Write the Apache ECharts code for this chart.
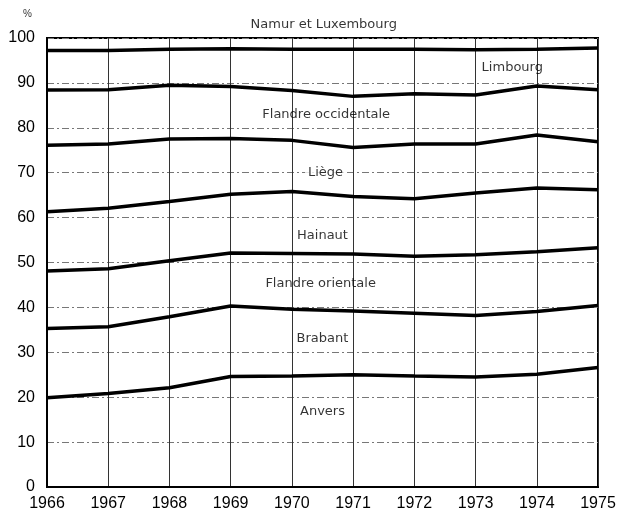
<!DOCTYPE html>
<html>
<head>
<meta charset="utf-8">
<script src="https://cdn.jsdelivr.net/npm/echarts@6/dist/echarts.min.js"></script>
<style>
  html, body { margin: 0; padding: 0; background: #fff; }
  #chart { width: 622px; height: 512px; }
</style>
</head>
<body>
<div id="chart"></div>
<script>
// cumulative shares (%), boundary lines from bottom to top
var years = [1966, 1967, 1968, 1969, 1970, 1971, 1972, 1973, 1974, 1975];
var anvers   = [19.9, 20.8, 22.1, 24.6, 24.7, 25.0, 24.7, 24.5, 25.1, 26.6];
var brabant  = [35.3, 35.7, 37.9, 40.3, 39.6, 39.2, 38.7, 38.2, 39.1, 40.4];
var flOrient = [48.1, 48.6, 50.4, 52.1, 52.0, 51.9, 51.4, 51.7, 52.4, 53.3];
var hainaut  = [61.3, 62.1, 63.6, 65.2, 65.8, 64.7, 64.2, 65.5, 66.6, 66.2];
var liege    = [76.1, 76.4, 77.5, 77.6, 77.2, 75.6, 76.4, 76.4, 78.4, 76.9];
var flOccid  = [88.4, 88.5, 89.5, 89.2, 88.3, 87.0, 87.6, 87.3, 89.3, 88.5];
var limbourg = [97.2, 97.2, 97.5, 97.6, 97.5, 97.5, 97.5, 97.4, 97.5, 97.8];
var yTicks = [0, 10, 20, 30, 40, 50, 60, 70, 80, 90, 100];

// band names with the [year, %] spot where each one is written
var bandNames = ['Namur et Luxembourg', 'Limbourg', 'Flandre occidentale', 'Liège',
  'Hainaut', 'Flandre orientale', 'Brabant', 'Anvers'];
var bandSpots = [[1970.52, 102.9], [1973.6, 93.3], [1970.56, 82.9], [1970.55, 70.1],
  [1970.5, 56.0], [1970.47, 45.3], [1970.5, 33.0], [1970.5, 16.7]];

var font = 'Liberation Sans, Arial, sans-serif';
var boundaries = [anvers, brabant, flOrient, hainaut, liege, flOccid, limbourg];

var series = boundaries.map(function(vals) {
  return {
    type: 'line',
    symbol: 'none',
    silent: true,
    lineStyle: { color: '#000', width: 3.5 },
    data: vals.map(function(v, i) { return [years[i], v]; })
  };
});

series.push({
  type: 'scatter',
  symbolSize: 0,
  clip: false,
  silent: true,
  data: bandNames.map(function(n, i) {
    return {
      name: n,
      value: bandSpots[i],
      label: n === 'Liège' ? { backgroundColor: '#fff', padding: [1, 3] } : {}
    };
  }),
  label: {
    show: true,
    position: 'inside',
    formatter: '{b}',
    color: '#000',
    fontFamily: 'DejaVu Sans, sans-serif',
    fontSize: 13
  }
});

var chart = echarts.init(document.getElementById('chart'));
chart.setOption({
  backgroundColor: '#fff',
  animation: false,
  grid: {
    left: 47, right: 24, top: 38, bottom: 24,
    show: true, borderColor: '#000', borderWidth: 2
  },
  graphic: [{
    type: 'text', left: 23, top: 9,
    style: { text: '%', fontSize: 10, fontFamily: font, fill: '#333' }
  }],
  xAxis: {
    type: 'value',
    min: years[0], max: years[years.length - 1], interval: 1,
    axisLine: { show: true, lineStyle: { color: '#000', width: 2 } },
    axisTick: { show: false },
    splitLine: { show: true, lineStyle: { color: '#333', width: 1 } },
    axisLabel: {
      margin: 9, color: '#000', fontSize: 16, fontFamily: font,
      formatter: function(v) { return String(v); }
    }
  },
  yAxis: {
    type: 'value',
    min: yTicks[0], max: yTicks[yTicks.length - 1], interval: 10,
    axisLine: { show: true, lineStyle: { color: '#000', width: 2 } },
    axisTick: { show: false },
    splitLine: { show: true, lineStyle: { color: '#777', width: 1, type: [7, 3, 2, 3] } },
    axisLabel: { margin: 12, color: '#000', fontSize: 16, fontFamily: font }
  },
  series: series
});
</script>
</body>
</html>
